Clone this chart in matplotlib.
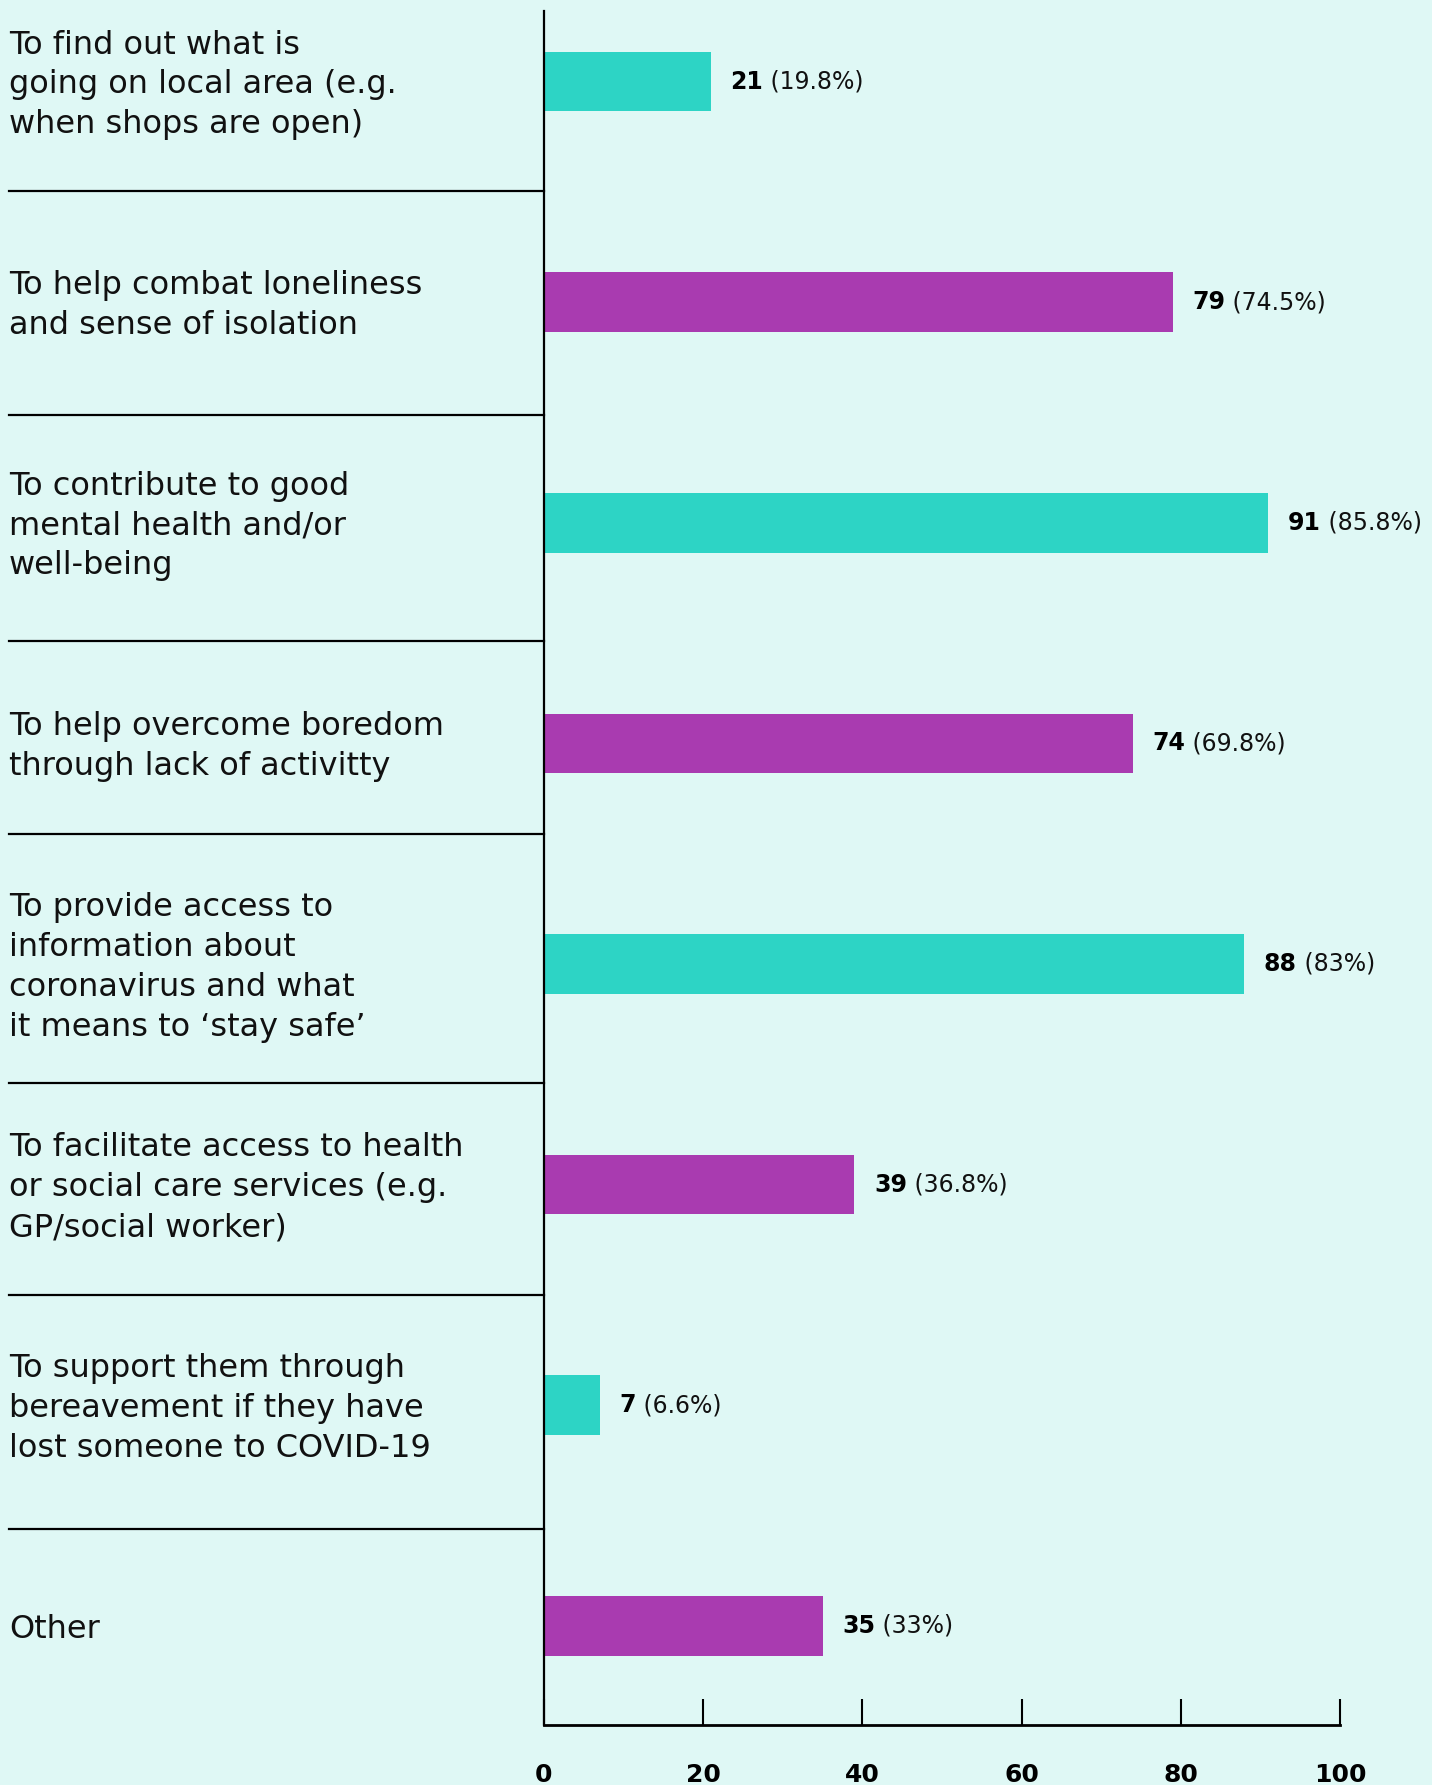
import matplotlib.pyplot as plt

# reasons (top to bottom)
labels = [
    "To find out what is\ngoing on local area (e.g.\nwhen shops are open)",
    "To help combat loneliness\nand sense of isolation",
    "To contribute to good\nmental health and/or\nwell-being",
    "To help overcome boredom\nthrough lack of activitty",
    "To provide access to\ninformation about\ncoronavirus and what\nit means to \u2018stay safe\u2019",
    "To facilitate access to health\nor social care services (e.g.\nGP/social worker)",
    "To support them through\nbereavement if they have\nlost someone to COVID-19",
    "Other",
]
counts = [21, 79, 91, 74, 88, 39, 7, 35]
pcts = ["19.8%", "74.5%", "85.8%", "69.8%", "83%", "36.8%", "6.6%", "33%"]
xticks = [0, 20, 40, 60, 80, 100]

teal = "#2DD4C5"
purple = "#A93BB0"
bg = "#DFF8F5"

# where the divider lines sit between rows (row units)
sep_pos = [0.495, 1.51, 2.536, 3.412, 4.541, 5.5, 6.562]

plt.rcParams['font.family'] = ['DejaVu Sans']

fig = plt.figure(figsize=(14.32, 17.85), dpi=100, facecolor=bg)
ax = fig.add_axes([544/1432, 1 - 1725/1785, (1340-544)/1432, (1725-11)/1785])
ax.set_facecolor(bg)

ypos = list(range(len(counts)))
colors = [teal if i % 2 == 0 else purple for i in ypos]
ax.barh(ypos, counts, height=0.27, color=colors, zorder=2)

ax.set_xlim(0, 100)
ax.set_ylim(7.45, -0.32)
ax.set_yticks([])
ax.set_xticks(xticks)
ax.set_xticklabels([str(t) for t in xticks], fontsize=18, fontweight='bold')
ax.tick_params(axis='x', direction='in', length=19, width=1.5, pad=27, color='black')
for s in ['top', 'right']:
    ax.spines[s].set_visible(False)
ax.spines['left'].set_linewidth(1.6)
ax.spines['bottom'].set_linewidth(2)

# category labels, left side
lab_x = -(544 - 9) / (1340 - 544)
for y, lab in zip(ypos, labels):
    ax.text(lab_x, y + 0.015, lab, transform=ax.get_yaxis_transform(), ha='left', va='center',
            fontsize=23, linespacing=1.37, color='#111111')

# separators
for s in sep_pos:
    ax.plot([lab_x, 0], [s, s], transform=ax.get_yaxis_transform(),
            color='black', lw=1.6, clip_on=False)

# value labels
fig.canvas.draw()
for y, c, p in zip(ypos, counts, pcts):
    t1 = ax.annotate(str(c), xy=(c, y), xytext=(14, 0), textcoords='offset points',
                     ha='left', va='center', fontsize=17, fontweight='bold')
    ax.annotate(" (" + p + ")", xy=(1, 0), xycoords=t1, ha='left', va='bottom',
                fontsize=17, color='#111111')

fig.savefig("out.png", dpi=100, facecolor=bg)
